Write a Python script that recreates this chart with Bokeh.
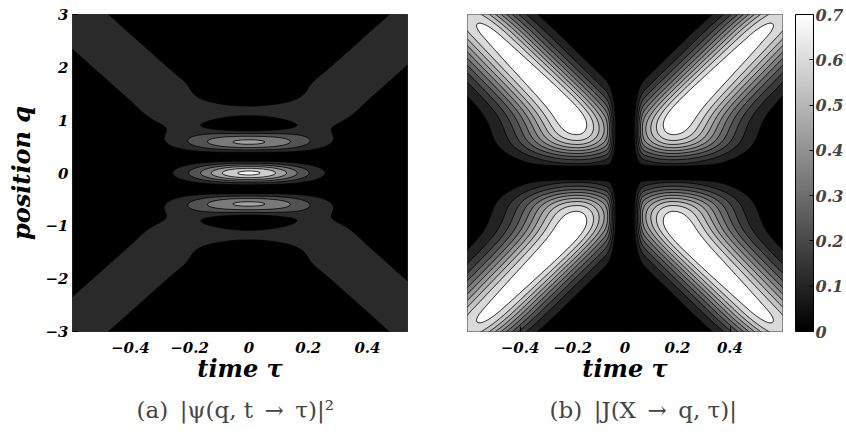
import numpy as np
from bokeh.plotting import figure
from bokeh.models import ColorBar, LinearColorMapper, FixedTicker, Title, Range1d
from bokeh.layouts import row
from bokeh.embed import file_html
from bokeh.resources import INLINE

# ---------------- data / model parameters ----------------
q_range = [-3.0, 3.0]
tau_range_a = [-0.595, 0.535]
tau_range_b = [-0.60, 0.60]

# panel (a): two colliding wave packets
packet_speed = [5.0]        # dq/dtau of the crossing bands
packet_width = [0.95]       # packet width in q
fringe_spacing = [0.61]     # distance between bright fringes at tau = 0
levels_a = [0.0, 0.16, 0.32, 0.48, 0.64, 0.80, 0.96, 1.05]
fills_a = ["#000000", "#2a2a2a", "#525252", "#7a7a7a", "#a3a3a3", "#cccccc", "#f5f5f5"]

# panel (b): four current lobes
ridge_speed = [4.9]         # dq/dtau of the lobe ridges
ridge_q0 = [0.125]          # q where the ridge line meets tau = 0
ridge_tau_floor = [0.18, 0.03]   # |tau| of the lobe foot, softness
ridge_sigma = [0.12, 0.15]  # cross width towards centre, towards edge
ridge_peak = [0.78, 0.035]  # peak height, decline per unit q above q = 1
ridge_end = [2.6, 0.28]     # start and strength of the fall-off near the corners
ridge_rise = [0.40, 0.15]   # centre, softness of the rise from q = 0
gap_q = [0.13]
gap_tau = [0.05]
levels_b = [0.0, 0.07, 0.14, 0.21, 0.28, 0.35, 0.42, 0.49, 0.56, 0.63, 0.70, 2.0]
cbar_ticks = [0, 0.1, 0.2, 0.3, 0.4, 0.5, 0.6, 0.7]
cbar_labels = ["0", "0.1", "0.2", "0.3", "0.4", "0.5", "0.6", "0.7"]

x_ticks = [-0.4, -0.2, 0, 0.2, 0.4]
x_labels = ["\u22120.4", "\u22120.2", "0", "0.2", "0.4"]
y_ticks = [-3, -2, -1, 0, 1, 2, 3]
y_labels = ["\u22123", "\u22122", "\u22121", "0", "1", "2", "3"]

# ---------------- fields ----------------
tau = np.linspace(-0.62, 0.62, 497)
q = np.linspace(-3.05, 3.05, 489)
T, Q = np.meshgrid(tau, q)

v = packet_speed[0]; s = packet_width[0]; k = np.pi / fringe_spacing[0]
g1 = np.exp(-(Q - v * T) ** 2 / (2 * s ** 2))
g2 = np.exp(-(Q + v * T) ** 2 / (2 * s ** 2))
Za = (g1 ** 2 + g2 ** 2 + 2 * g1 * g2 * np.cos(2 * k * Q)) / 4.0

aq = np.abs(Q); at = np.abs(T)
lin = (aq - ridge_q0[0]) / ridge_speed[0]
tf, tw = ridge_tau_floor
tc = tf + tw * np.log1p(np.exp((lin - tf) / tw))
d = at - tc
sig = np.where(d < 0, ridge_sigma[0], ridge_sigma[1])
A = (ridge_peak[0] - ridge_peak[1] * np.maximum(aq - 1.0, 0)
     - ridge_end[1] * np.maximum(aq - ridge_end[0], 0) ** 2)
A = A / (1 + np.exp(-(aq - ridge_rise[0]) / ridge_rise[1]))
Zb = A * np.exp(-0.5 * (d / sig) ** 2)
Zb = Zb * (1 - np.exp(-(Q / gap_q[0]) ** 4)) * (1 - np.exp(-(T / gap_tau[0]) ** 4))

def gray(v):
    g = int(round(255 * min(max(v, 0), 1)))
    return "#%02x%02x%02x" % (g, g, g)

fills_b = ["#000000"] + [gray((l + 0.035) / 0.78) for l in levels_b[1:-2]] + ["#ffffff"]

FONT = "DejaVu Serif"

def style(p):
    p.background_fill_color = "black"
    p.outline_line_color = "#333333"
    p.outline_line_width = 1
    p.grid.visible = False
    for ax in (p.xaxis, p.yaxis):
        ax.axis_line_color = None
        ax.major_tick_line_color = "black"
        ax.major_tick_in = 5
        ax.major_tick_out = 0
        ax.minor_tick_line_color = None
        ax.major_label_text_font = FONT
        ax.major_label_text_font_style = "bold italic"
        ax.major_label_text_font_size = "15px"
        ax.major_label_text_color = "black"
        ax.axis_label_text_font = FONT
        ax.axis_label_text_font_style = "bold italic"
        ax.axis_label_text_font_size = "24px"
        ax.axis_label_text_color = "black"
    p.xaxis.ticker = FixedTicker(ticks=x_ticks)
    p.xaxis.major_label_overrides = dict(zip(x_ticks, x_labels))
    p.xaxis.major_label_standoff = 10
    p.xaxis.axis_label_standoff = -2
    p.xaxis.axis_label = "time \u03c4"

H = 434
TOP = 14
FH = 317
pa = figure(width=420, height=H, x_range=Range1d(*tau_range_a), y_range=Range1d(*q_range),
            output_backend="svg", toolbar_location=None,
            min_border_left=72, min_border_right=13, min_border_top=TOP, min_border_bottom=H - TOP - FH)
style(pa)
pa.yaxis.ticker = FixedTicker(ticks=y_ticks)
pa.yaxis.major_label_overrides = dict(zip(y_ticks, y_labels))
pa.yaxis.axis_label = "position q"
pa.yaxis.axis_label_text_font_size = "24px"
pa.yaxis.major_label_standoff = 4
pa.yaxis.axis_label_standoff = 6
pa.contour(x=tau, y=q, z=Za, levels=levels_a, fill_color=fills_a, line_color="black", line_width=0.8)
pa.add_layout(Title(text="(a)\u2002|\u03c8(q, t\u2002\u2192\u2002\u03c4)|\u00b2", align="left", offset=64,
                    text_font=FONT, text_font_style="normal", text_font_size="23px", standoff=19), "below")

pb = figure(width=426, height=H, x_range=Range1d(*tau_range_b), y_range=Range1d(*q_range),
            output_backend="svg", toolbar_location=None,
            min_border_left=47, min_border_right=64, min_border_top=TOP, min_border_bottom=H - TOP - FH)
style(pb)
pb.yaxis.visible = False
pb.contour(x=tau, y=q, z=Zb, levels=levels_b, fill_color=fills_b, line_color="black", line_width=0.8)
mapper = LinearColorMapper(palette=[gray(i / 255) for i in range(256)], low=0, high=0.7)
cb = ColorBar(color_mapper=mapper, ticker=FixedTicker(ticks=cbar_ticks),
              major_label_overrides=dict(zip(cbar_ticks, cbar_labels)),
              width=18, height=FH, padding=0, margin=0, location=(13, 0),
              bar_line_color="black", border_line_color=None, background_fill_color=None,
              major_tick_line_color="black", major_tick_in=4, major_tick_out=0, label_standoff=2,
              major_label_text_font=FONT, major_label_text_font_style="bold italic",
              major_label_text_font_size="16px")
pb.add_layout(cb, "right")
pb.add_layout(Title(text="(b)\u2002|J(X\u2002\u2192\u2002q, \u03c4)|", align="left", offset=82,
                    text_font=FONT, text_font_style="normal", text_font_size="23px", standoff=19), "below")

layout = row(pa, pb)
open("out.html", "w").write(file_html(layout, INLINE))
